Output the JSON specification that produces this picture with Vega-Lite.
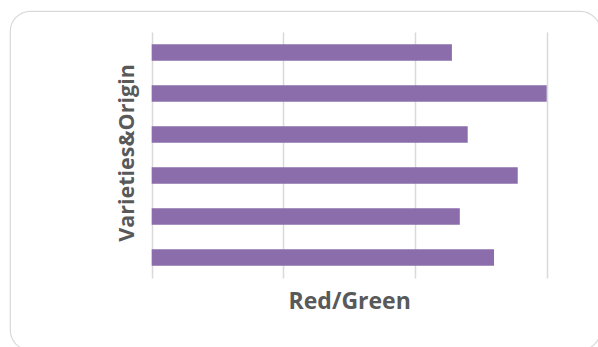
{
  "$schema": "https://vega.github.io/schema/vega-lite/v6.json",
  "autosize": "none",
  "padding": {"left": 10, "top": 11, "right": 0, "bottom": 0},
  "width": 590,
  "height": 339,
  "background": "white",
  "data": {
    "values": [
      {"variety": "A", "ratio": 1.14},
      {"variety": "B", "ratio": 1.5},
      {"variety": "C", "ratio": 1.2},
      {"variety": "D", "ratio": 1.39},
      {"variety": "E", "ratio": 1.17},
      {"variety": "F", "ratio": 1.3}
    ]
  },
  "mark": {"type": "bar", "color": "#8a6daa"},
  "encoding": {
    "y": {
      "field": "variety",
      "type": "nominal",
      "sort": null,
      "scale": {"range": [21, 267], "paddingInner": 0.6, "paddingOuter": 0.3},
      "axis": {
        "title": "Varieties&Origin",
        "labels": false,
        "ticks": false,
        "domain": false,
        "grid": false,
        "offset": -141.7,
        "titlePadding": 13.5,
        "titleY": 141.5,
        "titleFont": "Open Sans",
        "titleFontSize": 21.5,
        "titleFontWeight": "bold",
        "titleColor": "#595959"
      }
    },
    "x": {
      "field": "ratio",
      "type": "quantitative",
      "scale": {"domain": [0, 1.5], "range": [141.7, 536.7], "nice": false},
      "axis": {
        "orient": "top",
        "title": "Red/Green",
        "values": [0, 0.5, 1, 1.5],
        "labels": false,
        "ticks": false,
        "domain": false,
        "grid": true,
        "gridColor": "#d9d9d9",
        "gridWidth": 1.5,
        "offset": -267,
        "titleY": 12,
        "titleBaseline": "top",
        "titleFont": "Open Sans",
        "titleFontSize": 23,
        "titleFontWeight": "bold",
        "titleColor": "#595959"
      }
    }
  },
  "config": {
    "view": {"stroke": "#d9d9d9", "strokeWidth": 1.2, "cornerRadius": 20}
  }
}
